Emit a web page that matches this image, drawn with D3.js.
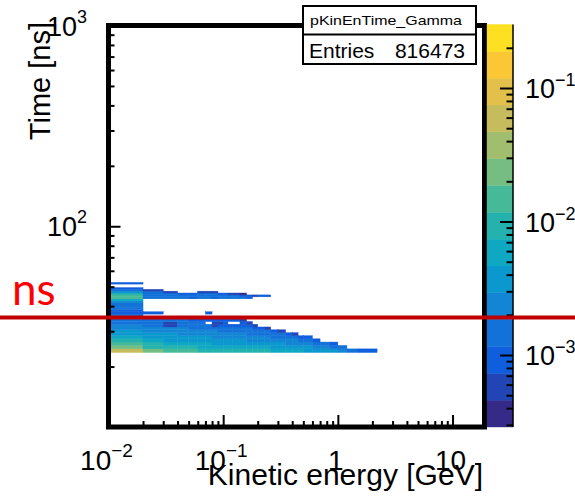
<!DOCTYPE html>
<html lang="en">
<head>
<meta charset="UTF-8">
<title>pKinEnTime_Gamma</title>
<script src="https://d3js.org/d3.v7.min.js"></script>
<style>
  body { margin: 0; background: #fff; }
  svg { display: block; font-family: "Liberation Sans", Arial, sans-serif; }
</style>
</head>
<body>
<svg width="575" height="498"></svg>
<script>
// ---- data ----
// kinetic energy bin edges [GeV]
const energyEdges = [0.01, 0.02, 0.03, 0.04, 0.05, 0.06, 0.07, 0.08, 0.09, 0.10, 0.11, 0.12, 0.14, 0.16, 0.18,
                     0.20, 0.23, 0.26, 0.30, 0.35, 0.40, 0.45, 0.50, 0.60, 0.70, 0.85, 1.0, 1.2, 1.5, 2.2];
// time bin edges [ns]
const timeEdges = [23.5, 24.5, 25.5, 26.5, 27.5, 28.5, 29.5, 30.5, 31.5, 32.5, 33.5, 34.5, 35.5, 36.5, 37.5, 38.5,
                   39.5, 40.5, 41.5, 42.5, 43.5, 44.5, 45.5, 46.5, 47.5, 48.5, 49.5, 50.5, 51.5, 52.5, 53.5];
// bin content, units of 1e-4, one row per time bin (lowest first), one entry per energy bin
// missing entries / 0 = empty bin
const zUnit = 1e-4;
const binContent = [
  [550, 200, 140, 130, 120, 115, 110, 105, 100, 98, 95, 92, 88, 85, 82, 78, 75, 70, 65, 60, 55, 50, 45, 40, 35, 30, 25, 18, 11],
  [250, 110, 85, 80, 75, 72, 70, 68, 65, 63, 60, 58, 56, 54, 52, 50, 48, 45, 42, 40, 37, 34, 30, 26, 22, 18, 12],
  [130, 75, 60, 55, 52, 50, 48, 46, 45, 44, 43, 42, 40, 38, 37, 35, 34, 32, 30, 28, 26, 24, 21, 18, 14, 10],
  [80, 55, 45, 42, 40, 38, 37, 36, 35, 34, 33, 32, 30, 29, 28, 27, 26, 24, 22, 20, 19, 17, 15, 11],
  [55, 42, 36, 34, 32, 31, 30, 29, 28, 27, 26, 25, 24, 23, 22, 21, 20, 18, 17, 15, 14, 11, 8],
  [40, 34, 30, 28, 27, 26, 25, 24, 23, 22, 21, 20, 19, 18, 17, 16, 15, 14, 13, 10, 7],
  [30, 28, 25, 23, 22, 21, 20, 19, 18, 18, 17, 16, 15, 14, 14, 13, 12, 9, 7],
  [24, 22, 20, 19, 18, 17, 16, 15, 15, 14, 14, 13, 12, 12, 11, 9, 7],
  [20, 18, 7, 16, 15, 14, 13, 7, 11, 11, 10, 10, 10, 9, 7],
  [17, 15, 7, 14, 13, 12, 0, 6, 7, 9, 0, 0, 8, 6],
  [15, 13, 12, 12, 11, 10, 10, 9, 9, 9, 8, 8, 6],
  [14, 12, 12, 11, 10, 10, 9, 9, 9, 8, 8, 7],
  [12],
  [9, 9, 0, 0, 0, 0, 8],
  [9],
  [12],
  [14],
  [16],
  [21],
  [50],
  [120, 12, 12, 13, 11, 13, 12, 11, 13, 12, 12, 13, 12, 9],
  [140, 16, 15, 14, 13, 15, 15, 14, 13, 13, 12, 12, 11, 8, 7, 8, 8],
  [80, 17, 14, 10, 8, 12, 12, 13, 9, 8, 7, 5, 4],
  [34, 14, 7, 0, 0, 6, 6, 6],
  [12, 7],
  [8],
  [],
  [],
  [10],
  []
];

// axes
const xMajor = [0.01, 0.1, 1, 10];
const xMajorLabels = [["10", "\u22122"], ["10", "\u22121"], ["1", ""], ["10", ""]];
const yMajor = [100, 1000];
const yMajorLabels = [["10", "2"], ["10", "3"]];
const zMajor = [0.001, 0.01, 0.1];
const zMajorLabels = [["10", "\u22123"], ["10", "\u22122"], ["10", "\u22121"]];
const zMin = 2.89e-4, zMax = 0.299;
const nLevels = 15;

// ROOT kBird palette
const birdStops = [0, 0.125, 0.25, 0.375, 0.5, 0.625, 0.75, 0.875, 1];
const birdColors = ["#352a87", "#0f5cdd", "#1481d6", "#06a4ca", "#2eb7a4", "#87bf77", "#d1bb59", "#fec832", "#f9fb0e"];

const histName = "pKinEnTime_Gamma";
const entries = 816473;

// ---- drawing ----
const svg = d3.select("svg");
const frame = {left: 108.5, right: 484.5, top: 25.5, bottom: 427};

const x = d3.scaleLog().domain([0.01, 19]).range([frame.left, frame.right]);
const y = d3.scaleLog().domain([10, 1000]).range([frame.bottom, frame.top]);
const z = d3.scaleLog().domain([zMin, zMax]).range([427, 24.5]);
const bird = d3.scaleLinear().domain(birdStops).range(birdColors).interpolate(d3.interpolateRgb);

const logMin = Math.log10(zMin), logMax = Math.log10(zMax);
function level(v) {
  const k = Math.floor((Math.log10(v) - logMin) / (logMax - logMin) * nLevels);
  return Math.max(0, Math.min(nLevels - 1, k));
}
const levelColor = k => bird(k / nLevels);

// histogram cells
const cells = [];
binContent.forEach((row, r) => {
  row.forEach((v, c) => {
    if (v > 0) cells.push({e0: energyEdges[c], e1: energyEdges[c + 1], t0: timeEdges[r], t1: timeEdges[r + 1], v: v * zUnit});
  });
});

svg.append("g")
  .selectAll("rect")
  .data(cells)
  .join("rect")
  .attr("x", d => x(d.e0))
  .attr("width", d => x(d.e1) - x(d.e0))
  .attr("y", d => y(d.t1))
  .attr("height", d => y(d.t0) - y(d.t1))
  .attr("fill", d => levelColor(level(d.v)))
  .attr("stroke", d => levelColor(level(d.v)))
  .attr("stroke-width", 0.4);

// minor tick values for log axes
function logMinors(lo, hi) {
  const out = [];
  for (let e = Math.floor(Math.log10(lo)); e <= Math.ceil(Math.log10(hi)); e++) {
    for (let m = 2; m <= 9; m++) {
      const v = m * Math.pow(10, e);
      if (v > lo && v < hi) out.push(v);
    }
  }
  return out;
}

function styleAxis(g) {
  g.select(".domain").remove();
  g.selectAll(".tick line").attr("stroke", "#000").attr("stroke-width", 2);
  g.selectAll(".tick text").remove();
}

// x axis ticks (pointing up)
svg.append("g").attr("transform", `translate(0,${frame.bottom})`)
  .call(d3.axisBottom(x).tickValues(xMajor).tickSize(-12)).call(styleAxis);
svg.append("g").attr("transform", `translate(0,${frame.bottom})`)
  .call(d3.axisBottom(x).tickValues(logMinors(0.01, 19)).tickSize(-6)).call(styleAxis);

// y axis ticks (pointing right)
svg.append("g").attr("transform", `translate(${frame.left},0)`)
  .call(d3.axisLeft(y).tickValues(yMajor).tickSize(-12)).call(styleAxis);
svg.append("g").attr("transform", `translate(${frame.left},0)`)
  .call(d3.axisLeft(y).tickValues(logMinors(10, 1000)).tickSize(-6)).call(styleAxis);

// frame
svg.append("rect")
  .attr("x", frame.left).attr("y", frame.top)
  .attr("width", frame.right - frame.left).attr("height", frame.bottom - frame.top)
  .attr("fill", "none").attr("stroke", "#000").attr("stroke-width", 5);

// power-of-ten labels
function powLabel(g, parts, px, py, anchor, size, supSize, rise) {
  const t = g.append("text").attr("x", px).attr("y", py)
    .attr("text-anchor", anchor).attr("font-size", size).attr("fill", "#000");
  t.append("tspan").text(parts[0]);
  if (parts[1]) t.append("tspan").attr("font-size", supSize).attr("dy", -rise).text(parts[1]);
}

const labels = svg.append("g");
xMajor.forEach((v, i) => powLabel(labels, xMajorLabels[i], x(v) - 2, 470, "middle", 28, 19, 13));
yMajor.forEach((v, i) => powLabel(labels, yMajorLabels[i], 87, y(v) + 10, "end", 27, 18, 13));

// axis titles
svg.append("text")
  .attr("x", 483).attr("y", 485)
  .attr("text-anchor", "end").attr("font-size", 30)
  .text("Kinetic energy [GeV]");
svg.append("text")
  .attr("transform", "translate(50,22) rotate(-90)")
  .attr("text-anchor", "end").attr("font-size", 29)
  .text("Time [ns]");

// colour palette
const cb = {x0: 487, x1: 513};
const levelEdges = d3.range(nLevels + 1).map(k => Math.pow(10, logMin + k * (logMax - logMin) / nLevels));
svg.append("g")
  .selectAll("rect")
  .data(d3.range(nLevels))
  .join("rect")
  .attr("x", cb.x0)
  .attr("width", cb.x1 - cb.x0)
  .attr("y", k => z(levelEdges[k + 1]))
  .attr("height", k => z(levelEdges[k]) - z(levelEdges[k + 1]))
  .attr("fill", k => levelColor(k))
  .attr("stroke", k => levelColor(k))
  .attr("stroke-width", 0.4);

svg.append("g").attr("transform", `translate(${cb.x1},0)`)
  .call(d3.axisRight(z).tickValues(zMajor).tickSize(-13)).call(styleAxis);
svg.append("g").attr("transform", `translate(${cb.x1},0)`)
  .call(d3.axisRight(z).tickValues(logMinors(zMin, zMax)).tickSize(-6.5)).call(styleAxis);
svg.append("line")
  .attr("x1", cb.x1).attr("x2", cb.x1).attr("y1", z(zMax)).attr("y2", z(zMin))
  .attr("stroke", "#000").attr("stroke-width", 1.5);
zMajor.forEach((v, i) => powLabel(labels, zMajorLabels[i], 525, z(v) + 10, "start", 27, 18, 12));

// stats box
const stats = svg.append("g");
stats.append("rect")
  .attr("x", 303).attr("y", 6).attr("width", 173).attr("height", 58)
  .attr("fill", "#fff").attr("stroke", "#000").attr("stroke-width", 2);
stats.append("line")
  .attr("x1", 303).attr("x2", 476).attr("y1", 34.5).attr("y2", 34.5)
  .attr("stroke", "#000").attr("stroke-width", 2);
stats.append("text")
  .attr("x", 310).attr("y", 25).attr("font-size", 13)
  .attr("textLength", 152).attr("lengthAdjust", "spacingAndGlyphs")
  .text(histName);
stats.append("text")
  .attr("x", 309).attr("y", 58).attr("font-size", 21)
  .text("Entries");
stats.append("text")
  .attr("x", 465).attr("y", 58).attr("font-size", 21).attr("text-anchor", "end")
  .text(entries);

// annotation: red line and label
svg.append("line")
  .attr("x1", 0).attr("x2", 575).attr("y1", 317.5).attr("y2", 317.5)
  .attr("stroke", "#c00000").attr("stroke-width", 4);
svg.append("text")
  .attr("x", 12).attr("y", 305)
  .attr("font-family", "Lato, 'Open Sans', sans-serif").attr("font-size", 44)
  .attr("fill", "#ff0000")
  .text("ns");
</script>
</body>
</html>
